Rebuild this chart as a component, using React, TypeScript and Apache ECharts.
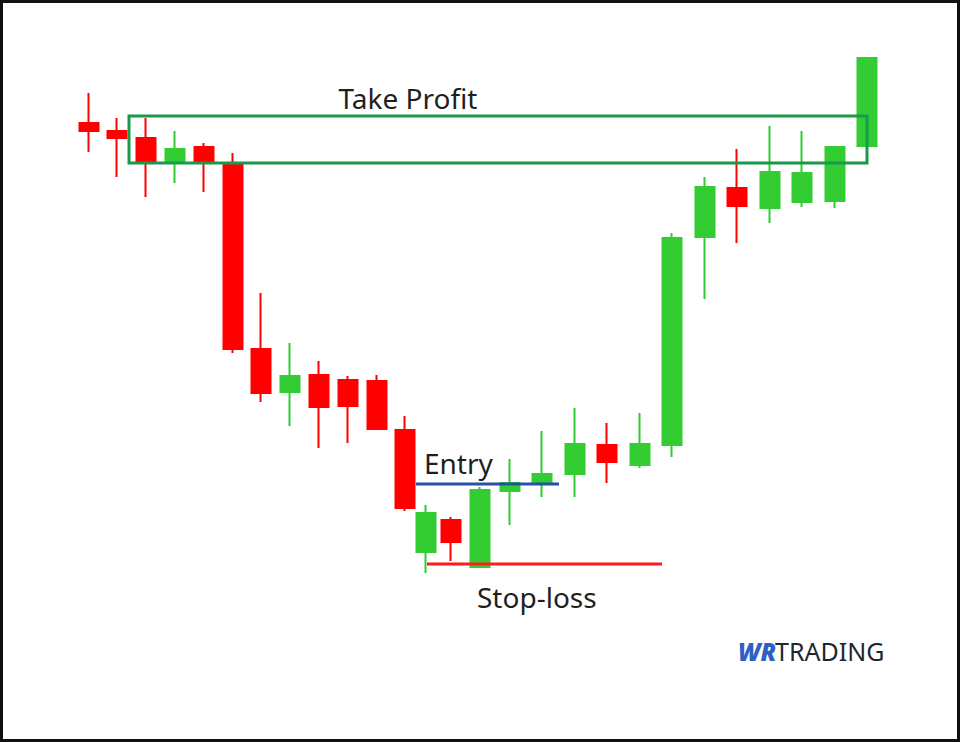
import React, { useEffect, useRef } from "react";
import * as echarts from "echarts";

// bar times (session units) and OHLC prices
const times = [89, 117, 146, 175, 204, 233, 261, 290, 319, 348, 377, 405, 426, 451, 480, 510, 542, 575, 607, 640, 672, 705, 737, 770, 802, 835, 867];
const opens = [677, 669, 662, 639, 653, 636, 451, 408, 425, 420, 419, 370, 248, 280, 233, 309, 318, 326, 355, 335, 355, 563, 612, 592, 598, 599, 654];
const closes = [669, 662, 639, 651, 639, 451, 407, 424, 393, 394, 371, 292, 287, 258, 310, 317, 326, 356, 338, 356, 562, 613, 594, 628, 627, 653, 742];
const lows = [648, 623, 603, 617, 608, 447, 398, 374, 352, 357, 370, 289, 227, 239, 233, 275, 303, 303, 317, 332, 343, 501, 557, 577, 593, 592, 654];
const highs = [707, 682, 682, 669, 657, 647, 507, 457, 439, 424, 425, 384, 295, 283, 313, 341, 369, 392, 377, 387, 567, 623, 651, 674, 669, 653, 743];

// levels
const takeProfitZone = { t0: 129, t1: 867, low: 637, high: 684 };
const entryLevel = { t0: 416, t1: 559, price: 316 };
const stopLevel = { t0: 427, t1: 662, price: 236 };

const labels = ["Take Profit", "Entry", "Stop-loss"];

const UP = "#33CC33";
const DOWN = "#FF0000";

export default function App() {
  const ref = useRef<HTMLDivElement>(null);
  useEffect(() => {
    if (!ref.current) return;
    const chart = echarts.init(ref.current, null, { renderer: "svg" });
    const candleData = times.map((t, i) => [t, opens[i], closes[i], lows[i], highs[i]]);
    const levelData = [
      [takeProfitZone.t0, takeProfitZone.low, takeProfitZone.t1, takeProfitZone.high],
      [entryLevel.t0, entryLevel.price, entryLevel.t1, entryLevel.price],
      [stopLevel.t0, stopLevel.price, stopLevel.t1, stopLevel.price],
    ];
    const font = '"Noto Sans", "Open Sans", sans-serif';
    chart.setOption({
      animation: false,
      backgroundColor: "#ffffff",
      grid: { left: 0, right: 0, top: 0, bottom: 0, containLabel: false },
      xAxis: { type: "value", min: 0, max: 960, show: false, splitLine: { show: false } },
      yAxis: { type: "value", min: 58, max: 800, show: false, splitLine: { show: false } },
      series: [
        {
          type: "candlestick",
          data: candleData,
          encode: { x: 0, y: [1, 2, 3, 4] },
          barWidth: 20,
          z: 2,
          itemStyle: {
            color: UP,
            color0: DOWN,
            borderColor: UP,
            borderColor0: DOWN,
            borderWidth: 2,
          },
        },
        {
          type: "custom",
          z: 5,
          data: levelData,
          encode: { x: [0, 2], y: [1, 3] },
          renderItem: (params: any, api: any) => {
            const p0 = api.coord([api.value(0), api.value(1)]);
            const p1 = api.coord([api.value(2), api.value(3)]);
            const idx = params.dataIndex;
            if (idx === 0) {
              return {
                type: "rect",
                shape: { x: p0[0], y: p1[1], width: p1[0] - p0[0], height: p0[1] - p1[1] },
                style: { fill: "none", stroke: "#18994C", lineWidth: 3 },
              };
            }
            return {
              type: "line",
              shape: { x1: p0[0], y1: p0[1], x2: p1[0], y2: p1[1] },
              style: { stroke: idx === 1 ? "#2452A6" : "#FF1A1A", lineWidth: 3 },
            };
          },
        },
      ],
      graphic: [
        {
          type: "rect",
          shape: { x: 1.5, y: 1.5, width: 957, height: 739 },
          style: { fill: "none", stroke: "#111111", lineWidth: 3 },
          z: 100,
        },
        {
          type: "text",
          x: 408,
          y: 98,
          style: { text: labels[0], font: `28px ${font}`, fill: "#1f1f1f", align: "center", verticalAlign: "middle" },
          z: 10,
        },
        {
          type: "text",
          x: 424,
          y: 463,
          style: { text: labels[1], font: `28px ${font}`, fill: "#1f1f1f", align: "left", verticalAlign: "middle" },
          z: 10,
        },
        {
          type: "text",
          x: 477,
          y: 597,
          style: { text: labels[2], font: `28px ${font}`, fill: "#1f1f1f", align: "left", verticalAlign: "middle" },
          z: 10,
        },
        {
          type: "text",
          x: 738,
          y: 651,
          style: {
            text: "WR",
            font: `italic 900 24px ${font}`,
            fill: "#2D5FC4",
            align: "left",
            verticalAlign: "middle",
          },
          z: 10,
        },
        {
          type: "text",
          x: 775,
          y: 651,
          style: { text: "TRADING", font: `25px ${font}`, fill: "#1d2631", align: "left", verticalAlign: "middle" },
          z: 10,
        },
      ],
    });
    return () => chart.dispose();
  }, []);
  return (
    <div
      ref={ref}
      style={{ position: "fixed", left: 0, top: 0, width: 960, height: 742, background: "#fff" }}
    />
  );
}
